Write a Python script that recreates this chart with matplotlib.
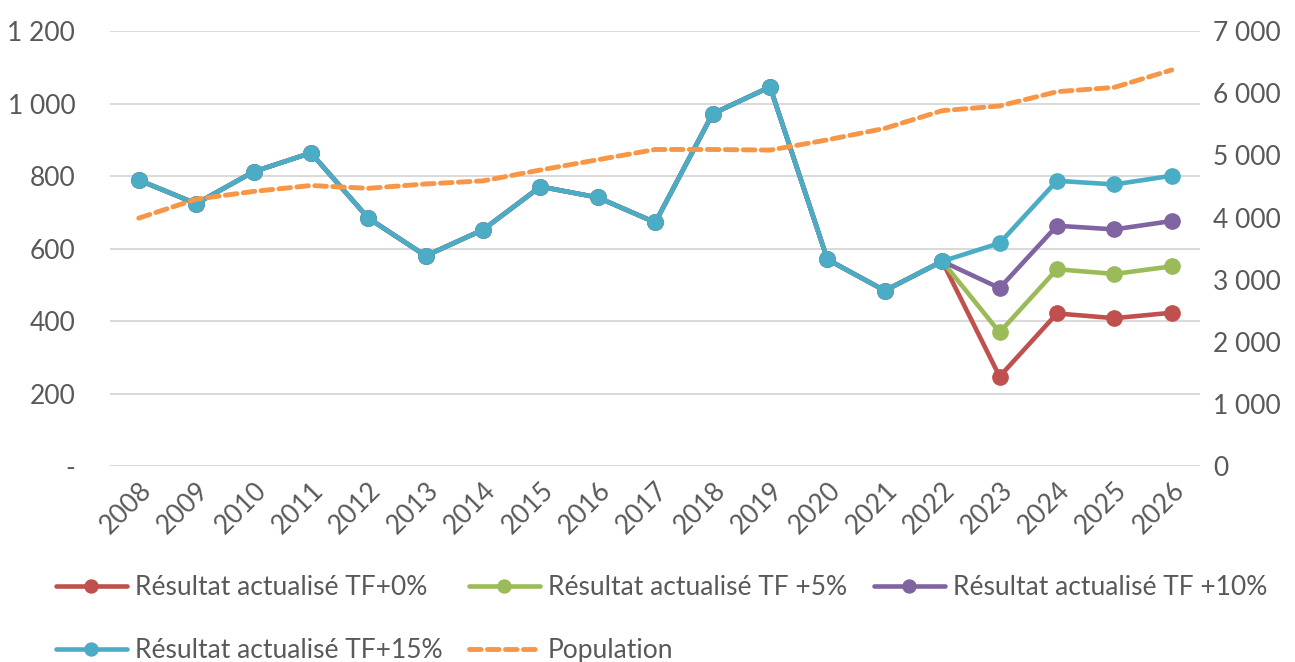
import matplotlib
matplotlib.use("Agg")
import matplotlib.pyplot as plt
from matplotlib.ticker import FuncFormatter

years = [str(y) for y in range(2008, 2027)]

# common history 2008-2022, then the four scenarios 2023-2026
history = [789, 724, 812, 864, 684, 580, 652, 771, 741, 672, 972, 1046, 570, 484, 565]
tf0 = [247, 421, 408, 423]
tf5 = [369, 543, 530, 551]
tf10 = [491, 663, 653, 676]
tf15 = [615, 787, 777, 801]

population = [3990, 4295, 4420, 4515, 4470, 4540, 4590, 4765, 4930, 5095,
              5095, 5085, 5250, 5435, 5720, 5795, 6025, 6095, 6375]

labels = ["Résultat actualisé TF+0%", "Résultat actualisé TF +5%",
          "Résultat actualisé TF +10%", "Résultat actualisé TF+15%", "Population"]
colors = ["#C0504D", "#9BBB59", "#8064A2", "#4BACC6", "#F79646"]

plt.rcParams['font.family'] = ['Lato', 'DejaVu Sans']
txt = "#595959"
fs = 19

fig = plt.figure(figsize=(12.95, 6.62), dpi=100)
ax = fig.add_axes([0.085, 0.296, 0.842, 0.657])
ax2 = ax.twinx()

x = list(range(len(years)))
handles = []
for vals, col, lab in zip([tf0, tf5, tf10, tf15], colors[:4], labels[:4]):
    series = history + vals
    h, = ax.plot(x, series, color=col, lw=3.3, marker='o', ms=11,
                 solid_joinstyle='round', solid_capstyle='round',
                 label=lab, zorder=3)
    handles.append(h)

hp, = ax2.plot(x, population, color=colors[4], lw=3.5, ls=(0, (2.4, 1.3)),
               dash_capstyle='round', label=labels[4])
handles.append(hp)

ax.set_xlim(-0.5, len(years) - 0.5)
ax.set_ylim(0, 1200)
ax2.set_ylim(0, 7000)
ax.set_yticks(range(0, 1201, 200))
ax2.set_yticks(range(0, 7001, 1000))


def fmt_left(v, pos):
    if v == 0:
        return "-"
    return f"{int(v):,}".replace(",", " ")


def fmt_right(v, pos):
    return f"{int(v):,}".replace(",", " ")


ax.yaxis.set_major_formatter(FuncFormatter(fmt_left))
ax2.yaxis.set_major_formatter(FuncFormatter(fmt_right))

ax.set_xticks(x)
ax.set_xticklabels(years, rotation=45, ha='right', rotation_mode='anchor')

ax.grid(axis='y', color='#d9d9d9', lw=1.4)
ax.set_axisbelow(True)
for a in (ax, ax2):
    for s in a.spines.values():
        s.set_visible(False)
    a.tick_params(length=0, labelsize=fs, colors=txt)
ax.tick_params(axis='y', pad=25)
ax2.tick_params(axis='y', pad=9)
ax.tick_params(axis='x', pad=8)

order = [0, 3, 1, 4, 2]
fig.legend([handles[i] for i in order], [labels[i] for i in order],
           ncol=3, loc='upper left', bbox_to_anchor=(0.043, 0.131),
           borderpad=0, borderaxespad=0, markerscale=0.85,
           frameon=False, fontsize=fs, labelcolor=txt, handlelength=2.7,
           handletextpad=0.3, columnspacing=1.0, labelspacing=1.44)

fig.savefig("out.png", dpi=100)
